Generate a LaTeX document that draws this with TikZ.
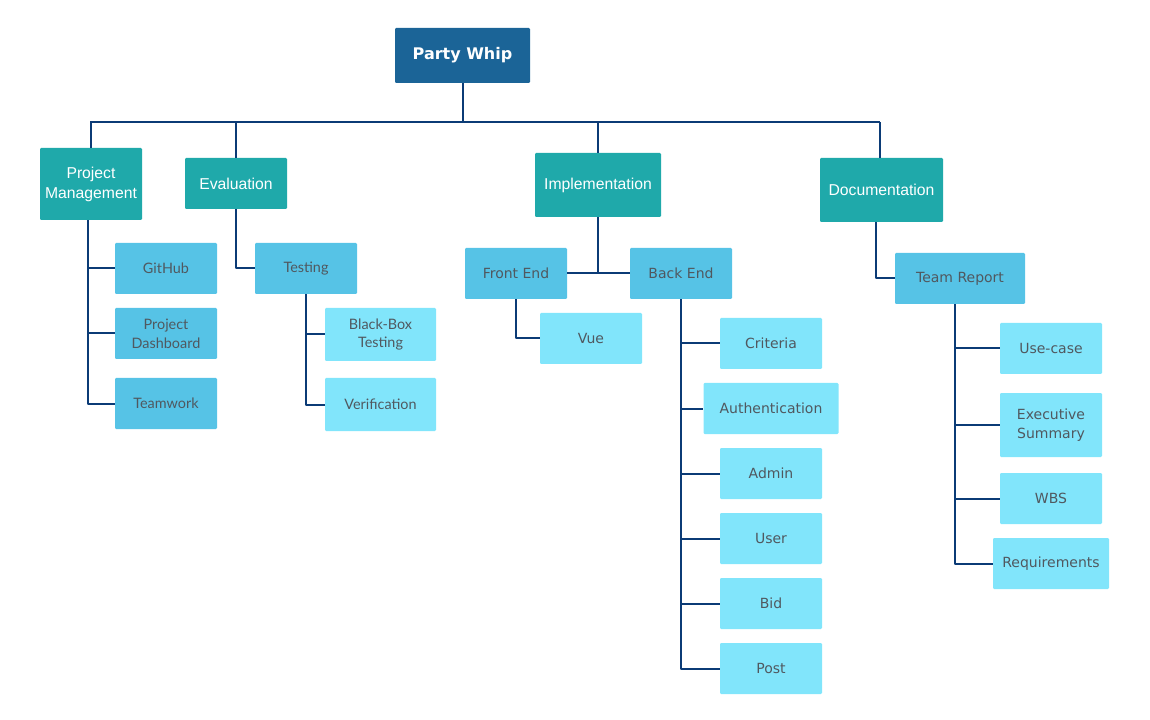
\documentclass[tikz,border=0pt]{standalone}
\usepackage{fontspec}
\setmainfont{Liberation Sans}
\newfontfamily\latofont{Lato}
\newfontfamily\verdfont{DejaVu Sans}
\definecolor{rootblue}{HTML}{1B6497}
\definecolor{tealbox}{HTML}{1FA9AA}
\definecolor{skybox}{HTML}{56C3E6}
\definecolor{paleblue}{HTML}{81E5FB}
\definecolor{linkblue}{HTML}{0B3B76}
\definecolor{textgray}{HTML}{50585F}
\tikzset{
  wh/.style 2 args={minimum width=#1*0.75pt, minimum height=#2*0.75pt},
  box/.style={rounded corners=0.8pt, inner sep=1pt, align=center, text=textgray},
  topbox/.style={box, fill=tealbox, text=white, font=\fontsize{11.8}{15}\selectfont},
  midbox/.style={box, fill=skybox},
  lowbox/.style={box, fill=paleblue},
  lato/.style={font=\latofont\fontsize{10.8}{14}\selectfont},
  verd/.style={font=\verdfont\fontsize{10.5}{14}\selectfont},
  link/.style={draw=linkblue, line width=1.5pt},
}
\begin{document}
\begin{tikzpicture}[x=0.75pt, y=-0.75pt, line join=round]
	\useasboundingbox (0,0) rectangle (1150,720);
	% root and first level
	\node[box, fill=rootblue, text=white, wh={135}{55}, font=\verdfont\bfseries\fontsize{12}{14}\selectfont] (root) at (462.5,55.5) {Party Whip};
	\node[topbox, wh={102}{72}] (pm) at (91,184) {Project\\Management};
	\node[topbox, wh={102}{51}] (eval) at (236,183.5) {Evaluation};
	\node[topbox, wh={126}{64}] (impl) at (598,185) {Implementation};
	\node[topbox, wh={123}{64}] (doc) at (881.5,190) {Documentation};
	% second level
	\node[midbox, lato, wh={102}{51}] (test) at (306,268.5) {Testing};
	\node[midbox, verd, wh={102}{51}] (front) at (516,273.5) {Front End};
	\node[midbox, verd, wh={102}{51}] (back) at (681,273.5) {Back End};
	\node[midbox, verd, wh={130}{51}] (report) at (960,278.5) {Team Report};
	\foreach \n/\t/\y in {github/GitHub/268.5, dash/Project\\Dashboard/333.5, team/Teamwork/403.5}{
		\node[midbox, lato, wh={102}{51}] (\n) at (166,\y) {\t};
	}
	% third level
	\node[lowbox, lato, wh={111}{53}] (bbt) at (380.5,334.5) {Black-Box\\Testing};
	\node[lowbox, lato, wh={111}{53}] (verif) at (380.5,404.5) {Verification};
	\node[lowbox, verd, wh={102}{51}] (vue) at (591,338.5) {Vue};
	\foreach \n/\t/\y/\w in {crit/Criteria/343.5/102, auth/Authentication/408.5/135, admin/Admin/473.5/102,
		user/User/538.5/102, bid/Bid/603.5/102, post/Post/668.5/102}{
		\node[lowbox, verd, wh={\w}{51}] (\n) at (771,\y) {\t};
	}
	\foreach \n/\t/\y/\w/\h in {usecase/Use-case/348.5/102/51, exec/Executive\\Summary/425/102/64,
		wbs/WBS/498.5/102/51, req/Requirements/563.5/116/51}{
		\node[lowbox, verd, wh={\w}{\h}] (\n) at (1051,\y) {\t};
	}
	% connectors
	\coordinate (busL) at (90,122);
	\coordinate (busR) at (880,122);
	\coordinate (pmT) at ([xshift=-2.25pt]pm.south);
	\coordinate (docT) at ([xshift=-4.5pt]doc.south);
	\coordinate (reportT) at ([xshift=-3.75pt]report.south);
	\draw[link] (root.south) -- (root.south |- busL) (busL) -- (busR);
	\foreach \n in {pm,eval,impl}{
		\draw[link] (\n.north |- busL) -- (\n.north);
	}
	\draw[link] (busR) -- (busR |- doc.north);
	\draw[link] (pmT) |- (team.west);
	\foreach \n in {github,dash}{
		\draw[link] (pmT |- \n.west) -- (\n.west);
	}
	\draw[link] (eval.south) |- (test.west);
	\draw[link] (test.south) |- (verif.west) (test.south |- bbt.west) -- (bbt.west);
	\draw[link] (impl.south) -- (impl.south |- front.east) (front.east) -- (back.west);
	\draw[link] (front.south) |- (vue.west);
	\draw[link] (back.south) |- (post.west);
	\foreach \n in {crit,auth,admin,user,bid}{
		\draw[link] (back.south |- \n.west) -- (\n.west);
	}
	\draw[link] (docT) |- (report.west);
	\draw[link] (reportT) |- (req.west);
	\foreach \n in {usecase,exec,wbs}{
		\draw[link] (reportT |- \n.west) -- (\n.west);
	}
\end{tikzpicture}
\end{document}
